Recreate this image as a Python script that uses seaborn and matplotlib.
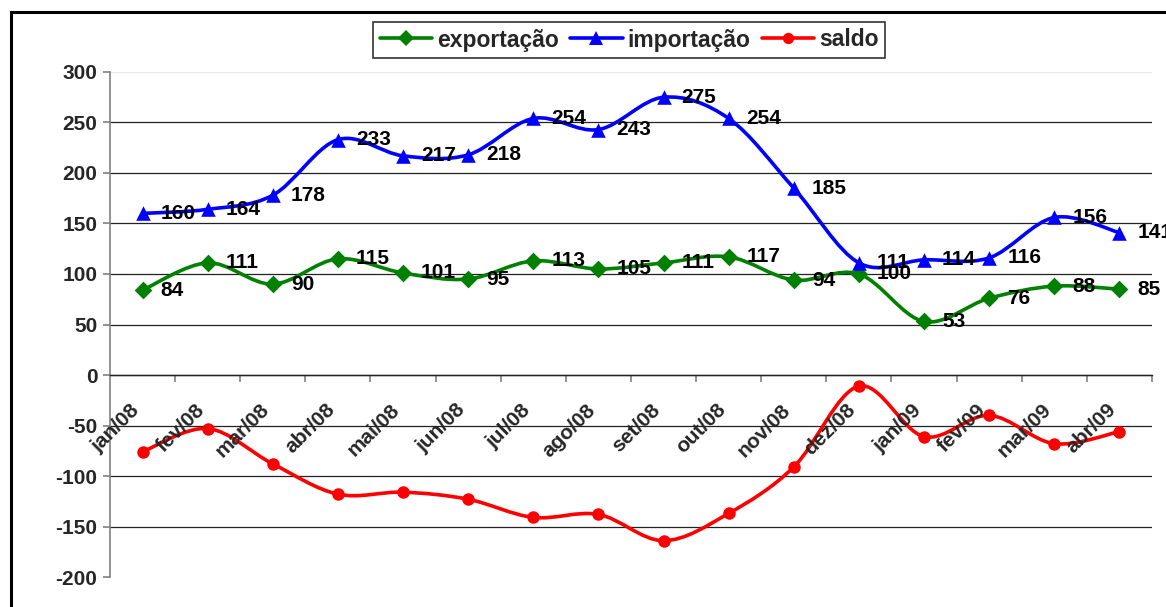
import numpy as np
import pandas as pd
import matplotlib
matplotlib.use("Agg")
import matplotlib.pyplot as plt
import seaborn as sns
from matplotlib.path import Path
from matplotlib.patches import PathPatch, Rectangle
from matplotlib.lines import Line2D
from matplotlib.transforms import ScaledTranslation

# ── dados (milhões) ───────────────────────────────────────────────────────────
meses = ['jan/08', 'fev/08', 'mar/08', 'abr/08', 'mai/08', 'jun/08', 'jul/08',
         'ago/08', 'set/08', 'out/08', 'nov/08', 'dez/08', 'jan/09', 'fev/09',
         'mar/09', 'abr/09']
exportacao = [84, 111, 90, 115, 101, 95, 113, 105, 111, 117, 94, 100, 53, 76, 88, 85]
importacao = [160, 164, 178, 233, 217, 218, 254, 243, 275, 254, 185, 111, 114, 116, 156, 141]
saldo = [-76, -53, -88, -118, -116, -123, -141, -138, -164, -137, -91, -11, -61, -40, -68, -56]
y_ticks = [-200, -150, -100, -50, 0, 50, 100, 150, 200, 250, 300]

sns.set_theme(style='white')
plt.rcParams['font.family'] = ['Liberation Sans', 'DejaVu Sans']
plt.rcParams['axes.unicode_minus'] = False

df = pd.DataFrame({'mes': meses, 'exportação': exportacao,
                   'importação': importacao, 'saldo': saldo})
df['pos'] = np.arange(len(df))

series = [
    ('exportação', '#008000', 'D', 9, True),
    ('importação', '#0000FF', '^', 10.5, True),
    ('saldo',      '#FF0000', 'o', 9, False),
]


def curva_suave(xs, ys):
    """Curva suavizada estilo Excel (Bezier cúbica a partir dos pontos)."""
    p = np.column_stack([xs, ys]).astype(float)
    ext = np.vstack([p[0], p, p[-1]])
    verts = [p[0]]
    codes = [Path.MOVETO]
    for i in range(1, len(ext) - 2):
        p0, p1, p2, p3 = ext[i - 1], ext[i], ext[i + 1], ext[i + 2]
        verts += [p1 + (p2 - p0) / 6, p2 - (p3 - p1) / 6, p2]
        codes += [Path.CURVE4] * 3
    return Path(verts, codes)


fig = plt.figure(figsize=(11.66, 6.07), dpi=100)
ax = fig.add_axes([0.0943, 0.0494, 0.8937, 0.832])

for nome, cor, mk, ms, rotulos in series:
    ax.add_patch(PathPatch(curva_suave(df['pos'], df[nome]), facecolor='none',
                           edgecolor=cor, lw=2.6, zorder=3))
    sns.scatterplot(data=df, x='pos', y=nome, marker=mk, s=ms ** 2, color=cor,
                    edgecolor=cor, linewidth=0, ax=ax, zorder=4, legend=False)
    if rotulos:
        off = ax.transData + ScaledTranslation(18 / 100, 0, fig.dpi_scale_trans)
        for x, v in zip(df['pos'], df[nome]):
            ax.text(x, v, f'{v}', transform=off, ha='left', va='center',
                    fontsize=15, fontweight='bold', color='black', zorder=5)

# eixos
ax.set_xlim(-0.5, len(meses) - 0.5)
ax.set_ylim(-200, 300)
ax.set_yticks(y_ticks)
ax.set_yticklabels([str(t) for t in y_ticks], fontsize=15, fontweight='bold')
ax.set_xlabel('')
ax.set_ylabel('')
for s in ['top', 'right']:
    ax.spines[s].set_visible(False)
ax.spines['left'].set_color('#808080')
ax.spines['left'].set_linewidth(1.2)
ax.spines['bottom'].set_position(('data', 0))
ax.spines['bottom'].set_color('#222222')
ax.spines['bottom'].set_linewidth(1.0)
ax.set_xticks(np.arange(len(meses)) + 0.5)
ax.set_xticklabels([])
ax.tick_params(axis='x', direction='out', length=5, width=1.2, color='#808080', bottom=True)
ax.tick_params(axis='y', direction='out', length=5, width=1.2, color='#808080', left=True, pad=4)

ax.yaxis.grid(True, color='#222222', lw=0.9)
ax.xaxis.grid(False)
gl = ax.yaxis.get_gridlines()
gl[0].set_visible(False)
gl[-1].set_color('#e8e8e8')
ax.set_axisbelow(True)

# rótulos dos meses (rodados 45°, junto à linha do zero)
lab_off = ax.transData + ScaledTranslation(-6 / 100, -32 / 100, fig.dpi_scale_trans)
for x, m in zip(df['pos'], meses):
    ax.text(x, 0, m, transform=lab_off, rotation=45, rotation_mode='anchor',
            ha='right', va='center', fontsize=15, fontweight='bold', zorder=6)

# legenda
handles = [Line2D([], [], color=cor, lw=2.6, marker=mk, markersize=ms * 0.9,
                  markeredgewidth=0) for _, cor, mk, ms, _ in series]
leg = fig.legend(handles, [s[0] for s in series], loc='center',
                 bbox_to_anchor=(629 / 1166, 1 - 40 / 607), ncol=3,
                 frameon=True, fancybox=False, handlelength=2.3,
                 columnspacing=0.5, handletextpad=0.2, borderpad=0.3,
                 prop={'weight': 'bold', 'size': 16.5})
leg.get_frame().set_edgecolor('black')
leg.get_frame().set_linewidth(1.2)

# moldura exterior
fig.patches.append(Rectangle((11 / 1166, -0.05), 1.1, 1 - 12 / 607 + 0.05,
                             transform=fig.transFigure, fill=False,
                             edgecolor='black', lw=2.2, clip_on=False))

fig.savefig('out.png', dpi=100)
